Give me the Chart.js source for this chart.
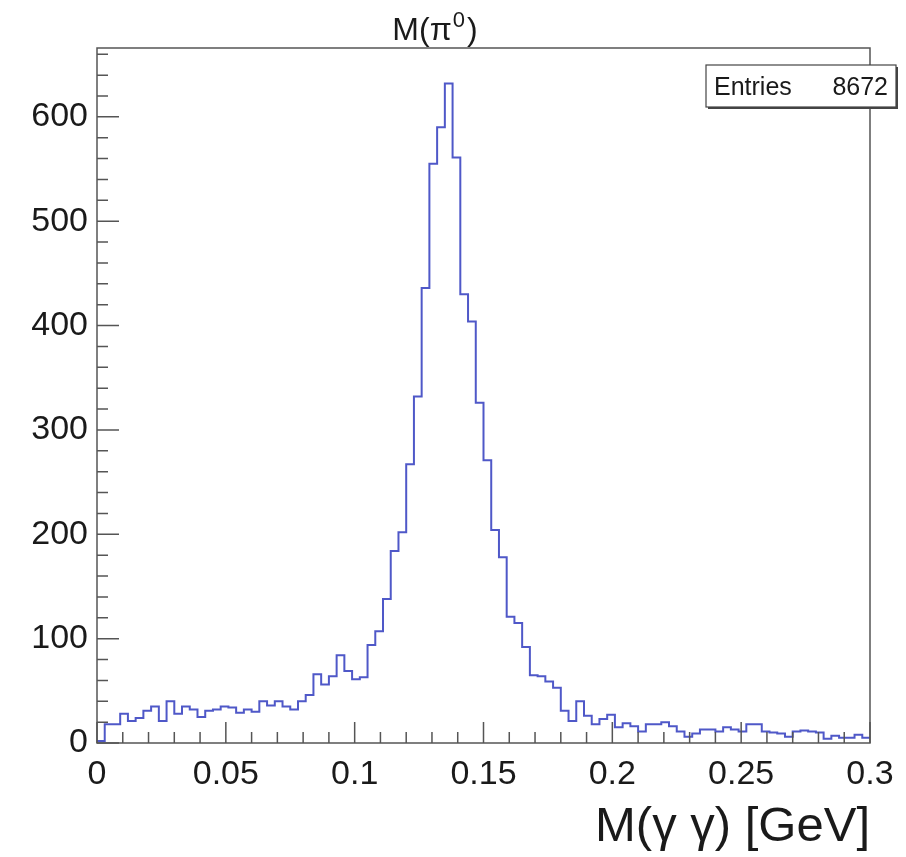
<!DOCTYPE html>
<html>
<head>
<meta charset="utf-8">
<title>M(pi0)</title>
<script src="https://cdn.jsdelivr.net/npm/chart.js@4.4.0/dist/chart.umd.min.js"></script>
<style>
    html, body { margin: 0; padding: 0; background: #ffffff; }
    #wrap { width: 906px; height: 857px; }
</style>
</head>
<body>
<div id="wrap"><canvas id="hist" width="906" height="857"></canvas></div>
<script>
// M(gamma gamma) histogram, 100 bins from 0 to 0.3 GeV
var binLow = 0;
var binWidth = 0.003;
var counts = [
    2, 18, 18, 28, 21, 24, 31, 35, 21, 40,
    28, 35, 32, 25, 31, 32, 35, 34, 29, 32,
    30, 40, 36, 40, 35, 32, 40, 46, 66, 56,
    64, 84, 69, 61, 63, 94, 107, 138, 184, 202,
    267, 332, 436, 555, 590, 632, 561, 430, 404, 326,
    271, 204, 178, 121, 115, 92, 65, 64, 59, 53,
    31, 21, 40, 26, 18, 23, 27, 15, 19, 16,
    11, 18, 18, 20, 16, 11, 6, 9, 13, 13,
    11, 15, 13, 11, 18, 18, 11, 10, 9, 6,
    11, 12, 11, 10, 4, 7, 5, 5, 8, 5
];
var xMajor = [0, 0.05, 0.1, 0.15, 0.2, 0.25, 0.3];
var xTickLabels = ['0', '0.05', '0.1', '0.15', '0.2', '0.25', '0.3'];
var yMajor = [0, 100, 200, 300, 400, 500, 600];
var yTickLabels = ['0', '100', '200', '300', '400', '500', '600'];
var xMinorStep = 0.01;
var yMinorStep = 20;
var entries = 8672;
var xTitle = 'M(\u03B3 \u03B3) [GeV]';

var fontFam = '"Liberation Sans", Arial, Helvetica, sans-serif';

// bin left edges + closing right edge
var points = [];
for (var i = 0; i < counts.length; i++) {
    points.push({x: binLow + i * binWidth, y: counts[i]});
}
points.push({x: binLow + counts.length * binWidth, y: counts[counts.length - 1]});

// frame, inward ticks, title and stats box like a ROOT canvas
var rootFrame = {
    id: 'rootFrame',
    afterDatasetsDraw: function (chart) {
        var ctx = chart.ctx;
        var a = chart.chartArea;
        var xs = chart.scales.x;
        var ys = chart.scales.y;
        ctx.save();
        ctx.strokeStyle = '#555555';
        ctx.lineWidth = 1.5;

        // x ticks
        ctx.beginPath();
        var n = Math.round((xs.max - xs.min) / xMinorStep);
        for (var k = 0; k <= n; k++) {
            var v = xs.min + k * xMinorStep;
            var px = xs.getPixelForValue(v);
            var major = k % 5 === 0;
            ctx.moveTo(px, a.bottom);
            ctx.lineTo(px, a.bottom - (major ? 21 : 11));
        }
        // y ticks
        var m = Math.floor(ys.max / yMinorStep);
        for (var j = 0; j <= m; j++) {
            var py = ys.getPixelForValue(j * yMinorStep);
            var big = (j * yMinorStep) % 100 === 0;
            ctx.moveTo(a.left, py);
            ctx.lineTo(a.left + (big ? 22 : 11), py);
        }
        ctx.stroke();

        ctx.strokeRect(a.left, a.top, a.right - a.left, a.bottom - a.top);
        ctx.restore();
    },
    afterDraw: function (chart) {
        var ctx = chart.ctx;
        ctx.save();
        ctx.fillStyle = '#1a1a1a';

        // title M(pi0)
        ctx.textBaseline = 'alphabetic';
        ctx.textAlign = 'left';
        ctx.font = '32px ' + fontFam;
        var t1 = 'M(\u03C0';
        var w1 = ctx.measureText(t1).width;
        ctx.font = '22px ' + fontFam;
        var w2 = ctx.measureText('0').width;
        ctx.font = '32px ' + fontFam;
        var w3 = ctx.measureText(')').width;
        var x0 = 435 - (w1 + w2 + w3 + 3) / 2;
        ctx.fillText(t1, x0, 40);
        ctx.font = '22px ' + fontFam;
        ctx.fillText('0', x0 + w1 + 1, 27);
        ctx.font = '32px ' + fontFam;
        ctx.fillText(')', x0 + w1 + w2 + 3, 40);

        // stats box
        ctx.fillStyle = '#444444';
        ctx.fillRect(708, 67, 190, 42);
        ctx.fillStyle = '#ffffff';
        ctx.fillRect(706, 65, 190, 42);
        ctx.strokeStyle = '#444444';
        ctx.lineWidth = 1.2;
        ctx.strokeRect(706, 65, 190, 42);
        ctx.fillStyle = '#1a1a1a';
        ctx.font = '25px ' + fontFam;
        ctx.textAlign = 'left';
        ctx.fillText('Entries', 714, 95);
        ctx.textAlign = 'right';
        ctx.fillText(String(entries), 888, 95);
        ctx.restore();
    }
};

var ctx1 = document.getElementById('hist').getContext('2d');
var histChart = new Chart(ctx1, {
    type: 'line',
    data: {
        datasets: [{
            label: 'M(\u03B3\u03B3)',
            data: points,
            borderColor: '#4f58c8',
            borderWidth: 2,
            pointRadius: 0,
            fill: false,
            stepped: true
        }]
    },
    options: {
        responsive: false,
        animation: false,
        events: [],
        layout: {
            padding: {top: 48, right: 36, left: 0, bottom: 0}
        },
        plugins: {
            legend: {display: false},
            title: {display: false},
            tooltip: {enabled: false}
        },
        scales: {
            x: {
                type: 'linear',
                min: 0,
                max: 0.3,
                grid: {display: false, drawTicks: false},
                border: {display: false},
                afterBuildTicks: function (scale) {
                    scale.ticks = xMajor.map(function (v) { return {value: v}; });
                },
                afterFit: function (scale) {
                    scale.height = 114;
                },
                ticks: {
                    autoSkip: false,
                    maxRotation: 0,
                    padding: 11,
                    color: '#1a1a1a',
                    font: {family: fontFam, size: 34},
                    callback: function (value, index) {
                        return xTickLabels[index];
                    }
                },
                title: {
                    display: true,
                    text: xTitle,
                    align: 'end',
                    color: '#1a1a1a',
                    font: {family: fontFam, size: 49},
                    padding: {top: 0, bottom: 0}
                }
            },
            y: {
                type: 'linear',
                min: 0,
                max: 666,
                grid: {display: false, drawTicks: false},
                border: {display: false},
                afterBuildTicks: function (scale) {
                    scale.ticks = yMajor.map(function (v) { return {value: v}; });
                },
                afterFit: function (scale) {
                    scale.width = 97;
                },
                ticks: {
                    padding: 9,
                    color: '#1a1a1a',
                    font: {family: fontFam, size: 34},
                    callback: function (value, index) {
                        return yTickLabels[index];
                    }
                }
            }
        }
    },
    plugins: [rootFrame]
});
</script>
</body>
</html>
